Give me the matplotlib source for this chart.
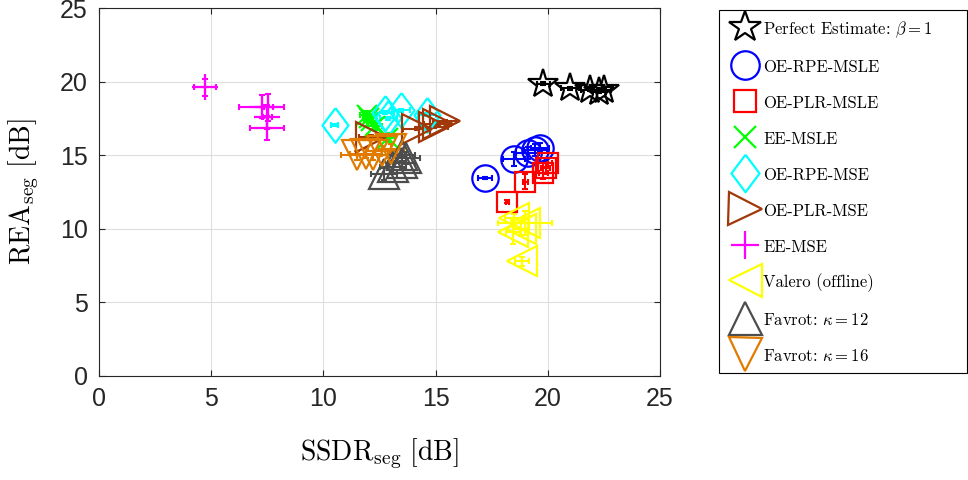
import matplotlib
matplotlib.use('Agg')
import matplotlib.pyplot as plt
from matplotlib.lines import Line2D

plt.rcParams['mathtext.fontset'] = 'cm'
plt.rcParams['axes.formatter.use_mathtext'] = False

# SSDR_seg / REA_seg values per method
labels = ['Perfect Estimate: $\\beta=1$', 'OE-RPE-MSLE', 'OE-PLR-MSLE', 'EE-MSLE',
          'OE-RPE-MSE', 'OE-PLR-MSE', 'EE-MSE', 'Valero (offline)',
          'Favrot: $\\kappa=12$', 'Favrot: $\\kappa=16$']

perfect_x = [19.8, 21.0, 21.9, 22.3, 22.5]
perfect_y = [19.85, 19.55, 19.45, 19.3, 19.45]
perfect_xerr = [0.3, 0.4, 0.4, 0.3, 0.3]
perfect_yerr = [0.1, 0.1, 0.1, 0.1, 0.1]

rpe_msle_x = [17.2, 18.5, 19.1, 19.45, 19.65]
rpe_msle_y = [13.45, 14.75, 15.15, 15.35, 15.5]
rpe_msle_xerr = [0.3, 0.5, 0.5, 0.5, 0.4]
rpe_msle_yerr = [0.05, 0.5, 0.4, 0.4, 0.3]

plr_msle_x = [18.2, 19.0, 19.8, 19.9, 20.0]
plr_msle_y = [11.85, 13.2, 13.8, 14.15, 14.5]
plr_msle_xerr = [0.05, 0.1, 0.2, 0.2, 0.2]
plr_msle_yerr = [0.1, 0.5, 0.4, 0.4, 0.3]

ee_msle_x = [11.95, 12.05, 12.1, 12.3, 12.9]
ee_msle_y = [17.7, 17.5, 17.3, 17.0, 16.2]
ee_msle_xerr = [0.3, 0.3, 0.3, 0.3, 0.3]
ee_msle_yerr = [0.3, 0.3, 0.3, 0.3, 0.3]

rpe_mse_x = [10.5, 12.75, 12.9, 13.45, 14.6]
rpe_mse_y = [17.05, 17.9, 17.5, 18.05, 17.75]
rpe_mse_xerr = [0.15, 0.4, 0.4, 0.4, 0.4]
rpe_mse_yerr = [0.05, 0.1, 0.1, 0.1, 0.1]

plr_mse_x = [12.1, 14.15, 14.95, 15.1, 15.4]
plr_mse_y = [16.25, 16.8, 16.95, 17.1, 17.3]
plr_mse_xerr = [0.5, 0.6, 0.6, 0.6, 0.5]
plr_mse_yerr = [0.1, 0.1, 0.1, 0.1, 0.1]

ee_mse_x = [4.72, 7.25, 7.55, 7.5, 7.5]
ee_mse_y = [19.6, 18.3, 18.25, 17.6, 16.85]
ee_mse_xerr = [0.5, 1.0, 0.2, 0.2, 0.75]
ee_mse_yerr = [0.6, 0.8, 0.9, 0.8, 0.8]

valero_x = [18.5, 19.0, 18.45, 18.8, 18.85]
valero_y = [10.7, 10.4, 9.8, 10.0, 7.8]
valero_xerr = [0.4, 1.2, 0.3, 0.3, 0.3]
valero_yerr = [0.3, 0.8, 0.8, 0.5, 0.3]

favrot12_x = [12.7, 13.1, 13.5, 13.7, 13.5]
favrot12_y = [13.7, 14.2, 14.5, 14.8, 15.0]
favrot12_xerr = [0.6, 0.6, 0.6, 0.6, 0.6]
favrot12_yerr = [0.4, 0.4, 0.4, 0.4, 0.4]

favrot16_x = [11.5, 11.9, 12.2, 12.6, 13.0]
favrot16_y = [15.0, 15.1, 15.0, 15.3, 15.45]
favrot16_xerr = [0.7, 0.7, 0.7, 0.7, 0.6]
favrot16_yerr = [0.3, 0.3, 0.3, 0.3, 0.3]

diamond = [(0, 1), (0.75, 0), (0, -1), (-0.75, 0), (0, 1)]

series = [
    (perfect_x, perfect_y, perfect_xerr, perfect_yerr, 'k', '*', 22),
    (rpe_msle_x, rpe_msle_y, rpe_msle_xerr, rpe_msle_yerr, '#0000ff', 'o', 19),
    (plr_msle_x, plr_msle_y, plr_msle_xerr, plr_msle_yerr, '#ff0000', 's', 15),
    (ee_msle_x, ee_msle_y, ee_msle_xerr, ee_msle_yerr, '#00ff00', 'x', 15),
    (rpe_mse_x, rpe_mse_y, rpe_mse_xerr, rpe_mse_yerr, '#00ffff', diamond, 25),
    (plr_mse_x, plr_mse_y, plr_mse_xerr, plr_mse_yerr, '#a0380a', '>', 22),
    (ee_mse_x, ee_mse_y, ee_mse_xerr, ee_mse_yerr, '#ff00ff', '+', 19),
    (valero_x, valero_y, valero_xerr, valero_yerr, '#ffff00', '<', 22),
    (favrot12_x, favrot12_y, favrot12_xerr, favrot12_yerr, '#4d4d4d', '^', 22),
    (favrot16_x, favrot16_y, favrot16_xerr, favrot16_yerr, '#e07b00', 'v', 22),
]


def main():
    fig = plt.figure(figsize=(9.68, 4.8), dpi=100)
    ax = fig.add_axes([0.1023, 0.2167, 0.5795, 0.7666])

    handles = []
    for (x, y, xe, ye, col, mk, ms), lab in zip(series, labels):
        ax.errorbar(x, y, xerr=xe, yerr=ye, fmt='none', ecolor=col,
                    elinewidth=1.5, capsize=2, capthick=1.5, zorder=2)
        ax.plot(x, y, linestyle='none', marker=mk, markersize=ms,
                markerfacecolor='none', markeredgecolor=col, markeredgewidth=1.6, zorder=3)
        handles.append(Line2D([], [], linestyle='none', marker=mk, markersize=ms * 1.08,
                              markerfacecolor='none', markeredgecolor=col,
                              markeredgewidth=1.6, label=lab))

    ax.set_xlim(0, 25)
    ax.set_ylim(0, 25)
    ax.set_xticks([0, 5, 10, 15, 20, 25])
    ax.set_yticks([0, 5, 10, 15, 20, 25])
    ax.grid(True, color='#dfdfdf', linewidth=0.8)
    ax.set_axisbelow(True)
    for s in ax.spines.values():
        s.set_color('#262626')
        s.set_linewidth(0.8)
    ax.tick_params(direction='in', length=4, colors='#262626', labelsize=18, pad=8,
                   top=True, right=True)
    for t in ax.get_xticklabels() + ax.get_yticklabels():
        t.set_family('Liberation Sans')

    ax.set_xlabel(r'$\mathrm{SSDR}_{\mathrm{seg}}\ [\mathrm{dB}]$', fontsize=20, labelpad=18)
    ax.set_ylabel(r'$\mathrm{REA}_{\mathrm{seg}}\ [\mathrm{dB}]$', fontsize=20, labelpad=14)

    leg = fig.legend(handles=handles, loc='upper left',
                     bbox_to_anchor=(0.743, 0.2167, 0.256, 0.7625), mode='expand',
                     fancybox=False, edgecolor='black', framealpha=1,
                     prop={'family': 'cmr10', 'size': 12}, borderaxespad=0,
                     handlelength=2.0, handleheight=1.2, handletextpad=0.1,
                     labelspacing=1.12, borderpad=0.55)
    leg.get_frame().set_linewidth(0.8)

    fig.savefig('out.png', dpi=100)


if __name__ == '__main__':
    main()
